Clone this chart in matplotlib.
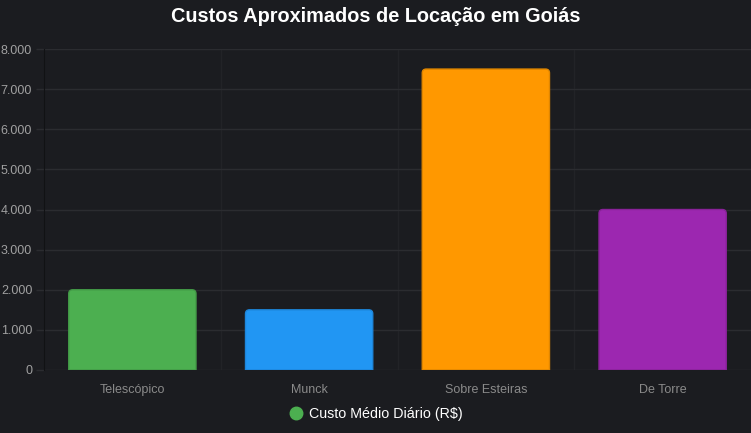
import matplotlib
matplotlib.use('Agg')
import matplotlib.pyplot as plt
from matplotlib.path import Path
from matplotlib.patches import PathPatch
from matplotlib.lines import Line2D
from matplotlib.ticker import FuncFormatter, MultipleLocator

# Data for the chart
categories = ['Telescópico', 'Munck', 'Sobre Esteiras', 'De Torre']
custo_diario = [2000, 1500, 7500, 4000]
bar_colors = ['#4CAF50', '#2196F3', '#FF9800', '#9C27B0']
edge_colors = ['#439a47', '#1d86db', '#e08600', '#892299']
series_label = 'Custo Médio Diário (R$)'

bg = '#1b1c20'
grid_col = '#2b2c30'

plt.rcParams['font.family'] = ['Liberation Sans', 'DejaVu Sans']

fig = plt.figure(figsize=(7.51, 4.33), dpi=100, facecolor=bg)
ax = fig.add_axes([44 / 751, 63 / 433, 707 / 751, 321 / 433])
ax.set_facecolor(bg)

ax.set_xlim(-0.5, len(categories) - 0.5)
ax.set_ylim(0, 8000)


def rounded_top_bar(x, h, width, rx, ry):
    # bar with only the two top corners rounded (as in Chart.js)
    x0, x1 = x - width / 2, x + width / 2
    verts = [(x0, 0), (x0, h - ry), (x0, h), (x0 + rx, h),
             (x1 - rx, h), (x1, h), (x1, h - ry), (x1, 0), (x0, 0)]
    codes = [Path.MOVETO, Path.LINETO, Path.CURVE3, Path.CURVE3,
             Path.LINETO, Path.CURVE3, Path.CURVE3, Path.LINETO, Path.CLOSEPOLY]
    return Path(verts, codes)


# convert a 4 px radius into data units
fig.canvas.draw()
p0 = ax.transData.transform((0, 0))
p1 = ax.transData.transform((1, 1000))
rx = 4 / (p1[0] - p0[0])
ry = 4 * 1000 / (p1[1] - p0[1])

bar_w = 0.72
for i, (val, c, ec) in enumerate(zip(custo_diario, bar_colors, edge_colors)):
    patch = PathPatch(rounded_top_bar(i, val, bar_w, rx, ry), facecolor=c,
                      edgecolor=ec, lw=1, zorder=3)
    ax.add_patch(patch)

# grid: horizontal at each 1000, vertical at category boundaries
ax.yaxis.set_major_locator(MultipleLocator(1000))
ax.yaxis.set_major_formatter(FuncFormatter(lambda v, p: f'{int(v):,}'.replace(',', '.')))
ax.grid(axis='y', color=grid_col, lw=1, zorder=0)
for b in range(1, len(categories)):
    ax.axvline(b - 0.5, color='#222327', lw=1, zorder=0)

ax.set_xticks(range(len(categories)))
ax.set_xticklabels(categories)
ax.tick_params(axis='x', length=0, pad=10, labelsize=9, labelcolor='#8a8a8a')
ax.tick_params(axis='y', length=6, width=1, color=grid_col, pad=2.5,
               labelsize=9, labelcolor='#a0a0a0')

for s in ['top', 'right', 'bottom']:
    ax.spines[s].set_visible(False)
ax.spines['left'].set_color('#111214')

fig.text(0.5, 1 - 17 / 433, 'Custos Aproximados de Locação em Goiás',
         ha='center', va='center', color='white', fontsize=14.3, fontweight='bold')

handle = Line2D([], [], marker='o', color='none', markerfacecolor=bar_colors[0],
                markeredgecolor=bar_colors[0], markersize=9)
fig.legend([handle], [series_label], loc='center', bbox_to_anchor=(0.5, 1 - 414 / 433),
           frameon=False, fontsize=10.3, labelcolor='white', handletextpad=0.3,
           handlelength=1.2)

fig.savefig('out.png', dpi=100, facecolor=bg)
